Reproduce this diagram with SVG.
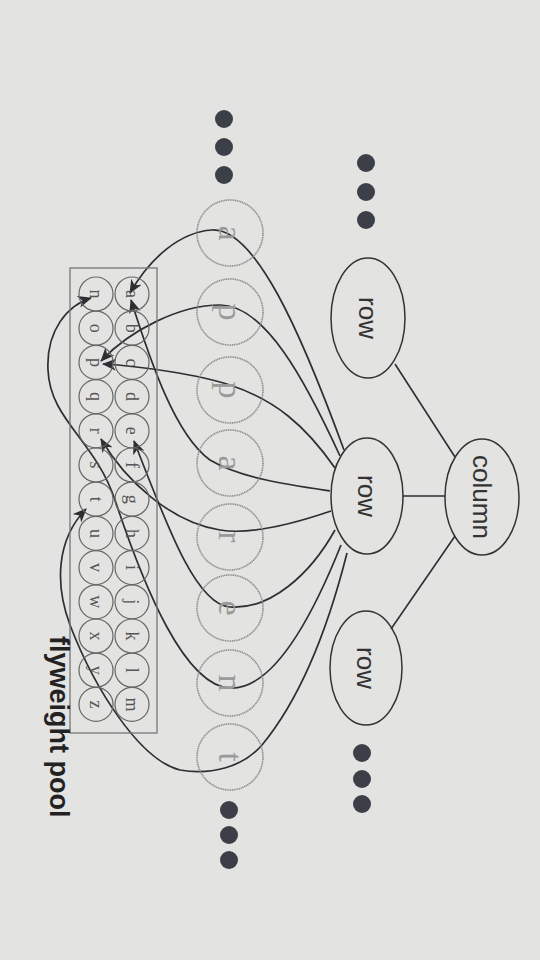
<svg xmlns="http://www.w3.org/2000/svg" width="540" height="960" viewBox="0 0 540 960">
<defs>
<style>
.obj{fill:none;stroke:#333;stroke-width:1.5}
.lbl{font-family:"Liberation Sans",Arial,sans-serif;font-size:26px;fill:#333;text-anchor:middle;dominant-baseline:central}
.dot{fill:#3c3f47}
.ch{fill:none;stroke:#8c8c8c;stroke-width:1.6;stroke-dasharray:1.2 0.6}
.chl{font-family:"Liberation Serif","Times New Roman",serif;font-size:34px;fill:#9a9a9a;text-anchor:middle;dominant-baseline:central}
.pc{fill:none;stroke:#666;stroke-width:1.2}
.pl{font-family:"Liberation Serif","Times New Roman",serif;font-size:18px;fill:#555;text-anchor:middle;dominant-baseline:central}
.con{fill:none;stroke:#2e2e33;stroke-width:1.6}
.arr{fill:none;stroke:#2e2e33;stroke-width:1.7;marker-end:url(#ah)}
</style>
<marker id="ah" viewBox="0 0 14 12" refX="13" refY="6" markerWidth="14" markerHeight="12" markerUnits="userSpaceOnUse" orient="auto">
<path d="M0,0 L14,6 L0,12 L4,6 z" fill="#2e2e33"/>
</marker>
</defs>
<rect x="0" y="0" width="540" height="960" fill="#e3e3e1"/>

<g id="connectors">
<line class="con" x1="455" y1="457" x2="395" y2="364"/>
<line class="con" x1="445" y1="496" x2="403" y2="496"/>
<line class="con" x1="455" y1="536" x2="391" y2="629"/>
<path class="arr" d="M344,450 C 300,330 255,228 212,230 C 180,232 150,258 130,293"/>
<path class="arr" d="M340,456 C 305,380 265,305 220,305 C 180,305 130,330 101,361"/>
<path class="arr" d="M335,468 C 305,425 275,400 230,385 C 200,375 140,366 103,364"/>
<path class="arr" d="M330,491 C 290,485 240,478 210,460 C 175,435 150,360 131,300"/>
<path class="arr" d="M331,511 C 290,525 250,535 220,530 C 170,522 125,480 101,439"/>
<path class="arr" d="M335,530 C 310,575 270,610 230,607 C 195,605 165,520 134,441"/>
<path class="arr" d="M341,545 C 315,610 275,690 230,688 C 185,686 145,590 115,500 C 95,440 50,420 48,370 C 46,330 68,305 91,298"/>
<path class="arr" d="M347,553 C 325,640 295,705 262,745 C 242,768 210,775 180,770 C 140,760 95,690 70,625 C 55,585 56,540 86,509"/>
</g>

<g id="column"><ellipse class="obj" cx="482" cy="497" rx="37" ry="58"/><text class="lbl" transform="translate(482,497) rotate(90)">column</text></g>
<g id="row-top"><ellipse class="obj" cx="368" cy="318" rx="37" ry="60"/><text class="lbl" transform="translate(368,318) rotate(90)">row</text></g>
<g id="row-mid"><ellipse class="obj" cx="367" cy="496" rx="36" ry="58"/><text class="lbl" transform="translate(367,496) rotate(90)">row</text></g>
<g id="row-bot"><ellipse class="obj" cx="366" cy="668" rx="36" ry="57"/><text class="lbl" transform="translate(366,668) rotate(90)">row</text></g>

<g id="dots-rows-top"><circle class="dot" cx="366" cy="163" r="9"/><circle class="dot" cx="366" cy="192" r="9"/><circle class="dot" cx="366" cy="220" r="9"/></g>
<g id="dots-rows-bot"><circle class="dot" cx="362" cy="753" r="9"/><circle class="dot" cx="362" cy="779" r="9"/><circle class="dot" cx="362" cy="804" r="9"/></g>
<g id="dots-chars-top"><circle class="dot" cx="224" cy="119" r="9"/><circle class="dot" cx="224" cy="147" r="9"/><circle class="dot" cx="224" cy="175" r="9"/></g>
<g id="dots-chars-bot"><circle class="dot" cx="229" cy="810" r="9"/><circle class="dot" cx="229" cy="835" r="9"/><circle class="dot" cx="229" cy="860" r="9"/></g>

<g id="char-a1"><circle class="ch" cx="230" cy="233" r="33"/><text class="chl" transform="translate(230,233) rotate(90)">a</text></g>
<g id="char-p1"><circle class="ch" cx="230" cy="312" r="33"/><text class="chl" transform="translate(230,312) rotate(90)">p</text></g>
<g id="char-p2"><circle class="ch" cx="230" cy="390" r="33"/><text class="chl" transform="translate(230,390) rotate(90)">p</text></g>
<g id="char-a2"><circle class="ch" cx="230" cy="463" r="33"/><text class="chl" transform="translate(230,463) rotate(90)">a</text></g>
<g id="char-r"><circle class="ch" cx="230" cy="537" r="33"/><text class="chl" transform="translate(230,537) rotate(90)">r</text></g>
<g id="char-e"><circle class="ch" cx="230" cy="608" r="33"/><text class="chl" transform="translate(230,608) rotate(90)">e</text></g>
<g id="char-n"><circle class="ch" cx="230" cy="683" r="33"/><text class="chl" transform="translate(230,683) rotate(90)">n</text></g>
<g id="char-t"><circle class="ch" cx="230" cy="757" r="33"/><text class="chl" transform="translate(230,757) rotate(90)">t</text></g>

<g id="pool">
<rect x="70" y="268" width="87" height="465" fill="none" stroke="#777" stroke-width="1.3"/>
<g id="pool-a"><circle class="pc" cx="132" cy="294" r="17"/><text class="pl" transform="translate(132,294) rotate(90)">a</text></g>
<g id="pool-b"><circle class="pc" cx="132" cy="328.2" r="17"/><text class="pl" transform="translate(132,328.2) rotate(90)">b</text></g>
<g id="pool-c"><circle class="pc" cx="132" cy="362.4" r="17"/><text class="pl" transform="translate(132,362.4) rotate(90)">c</text></g>
<g id="pool-d"><circle class="pc" cx="132" cy="396.6" r="17"/><text class="pl" transform="translate(132,396.6) rotate(90)">d</text></g>
<g id="pool-e"><circle class="pc" cx="132" cy="430.8" r="17"/><text class="pl" transform="translate(132,430.8) rotate(90)">e</text></g>
<g id="pool-f"><circle class="pc" cx="132" cy="465" r="17"/><text class="pl" transform="translate(132,465) rotate(90)">f</text></g>
<g id="pool-g"><circle class="pc" cx="132" cy="499.2" r="17"/><text class="pl" transform="translate(132,499.2) rotate(90)">g</text></g>
<g id="pool-h"><circle class="pc" cx="132" cy="533.4" r="17"/><text class="pl" transform="translate(132,533.4) rotate(90)">h</text></g>
<g id="pool-i"><circle class="pc" cx="132" cy="567.6" r="17"/><text class="pl" transform="translate(132,567.6) rotate(90)">i</text></g>
<g id="pool-j"><circle class="pc" cx="132" cy="601.8" r="17"/><text class="pl" transform="translate(132,601.8) rotate(90)">j</text></g>
<g id="pool-k"><circle class="pc" cx="132" cy="636" r="17"/><text class="pl" transform="translate(132,636) rotate(90)">k</text></g>
<g id="pool-l"><circle class="pc" cx="132" cy="670.2" r="17"/><text class="pl" transform="translate(132,670.2) rotate(90)">l</text></g>
<g id="pool-m"><circle class="pc" cx="132" cy="704.4" r="17"/><text class="pl" transform="translate(132,704.4) rotate(90)">m</text></g>
<g id="pool-n"><circle class="pc" cx="96" cy="294" r="17"/><text class="pl" transform="translate(96,294) rotate(90)">n</text></g>
<g id="pool-o"><circle class="pc" cx="96" cy="328.2" r="17"/><text class="pl" transform="translate(96,328.2) rotate(90)">o</text></g>
<g id="pool-p"><circle class="pc" cx="96" cy="362.4" r="17"/><text class="pl" transform="translate(96,362.4) rotate(90)">p</text></g>
<g id="pool-q"><circle class="pc" cx="96" cy="396.6" r="17"/><text class="pl" transform="translate(96,396.6) rotate(90)">q</text></g>
<g id="pool-r"><circle class="pc" cx="96" cy="430.8" r="17"/><text class="pl" transform="translate(96,430.8) rotate(90)">r</text></g>
<g id="pool-s"><circle class="pc" cx="96" cy="465" r="17"/><text class="pl" transform="translate(96,465) rotate(90)">s</text></g>
<g id="pool-t"><circle class="pc" cx="96" cy="499.2" r="17"/><text class="pl" transform="translate(96,499.2) rotate(90)">t</text></g>
<g id="pool-u"><circle class="pc" cx="96" cy="533.4" r="17"/><text class="pl" transform="translate(96,533.4) rotate(90)">u</text></g>
<g id="pool-v"><circle class="pc" cx="96" cy="567.6" r="17"/><text class="pl" transform="translate(96,567.6) rotate(90)">v</text></g>
<g id="pool-w"><circle class="pc" cx="96" cy="601.8" r="17"/><text class="pl" transform="translate(96,601.8) rotate(90)">w</text></g>
<g id="pool-x"><circle class="pc" cx="96" cy="636" r="17"/><text class="pl" transform="translate(96,636) rotate(90)">x</text></g>
<g id="pool-y"><circle class="pc" cx="96" cy="670.2" r="17"/><text class="pl" transform="translate(96,670.2) rotate(90)">y</text></g>
<g id="pool-z"><circle class="pc" cx="96" cy="704.4" r="17"/><text class="pl" transform="translate(96,704.4) rotate(90)">z</text></g>
</g>

<g id="pool-label"><text transform="translate(50,636) rotate(90)" font-family="'Liberation Sans',Arial,sans-serif" font-size="27" font-weight="bold" fill="#222">flyweight pool</text></g>
</svg>
